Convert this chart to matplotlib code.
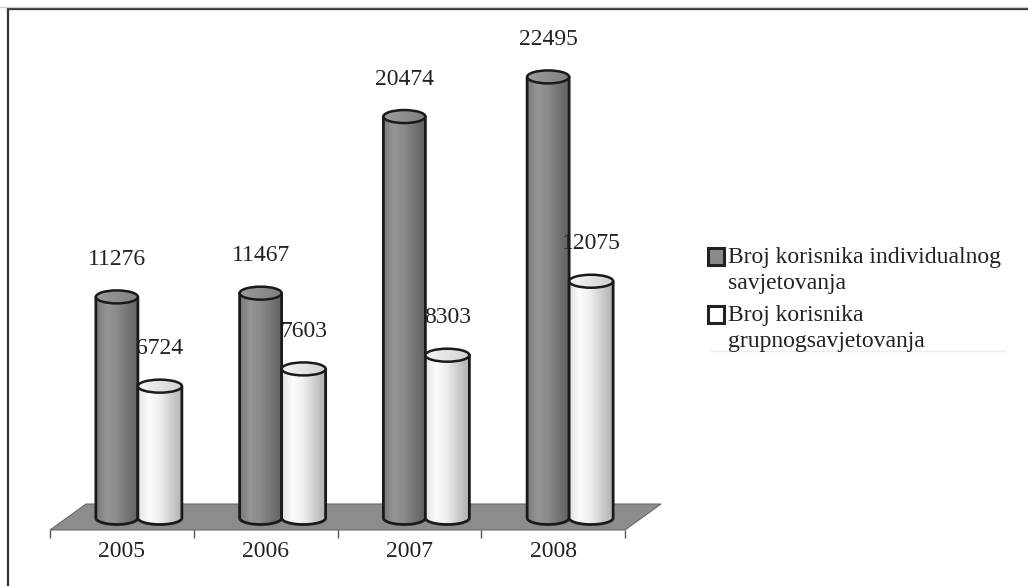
import numpy as np
import matplotlib
matplotlib.use("Agg")
from matplotlib import pyplot as plt
from matplotlib.patches import Polygon, Ellipse, Rectangle
from matplotlib.colors import LinearSegmentedColormap
from matplotlib.lines import Line2D

years = ['2005', '2006', '2007', '2008']
individual = [11276, 11467, 20474, 22495]
group = [6724, 7603, 8303, 12075]
labels = ['Broj korisnika individualnog\nsavjetovanja',
          'Broj korisnika\ngrupnogsavjetovanja']

plt.rcParams['font.family'] = ['Liberation Serif', 'DejaVu Serif']

W, H = 1028, 586
fig = plt.figure(figsize=(W / 100, H / 100), dpi=100)
# axes box in pixels: x 50..625, y 10..530
ax = fig.add_axes([50 / W, (H - 530) / H, 575 / W, 520 / H])
ymin, ymax = -612, 25908
xmin, xmax = -0.5, 3.5
px_x = (xmax - xmin) / 575.0   # data units per pixel
px_y = (ymax - ymin) / 520.0

dark_cmap = LinearSegmentedColormap.from_list('d', ['#7a7a7a', '#959595', '#8a8a8a', '#747474', '#626262'])
light_cmap = LinearSegmentedColormap.from_list('l', ['#e2e2e2', '#fdfdfd', '#ededed', '#cdcdcd', '#b0b0b0'])
dark_top = LinearSegmentedColormap.from_list('dt', ['#9c9c9c', '#808080'])
light_top = LinearSegmentedColormap.from_list('lt', ['#f7f7f7', '#cfcfcf'])
grad = np.linspace(0, 1, 256)[np.newaxis, :]

ry = 6.5 * px_y


def cylinder(xc, w, top, body_cmap, top_cmap, z):
    x0, x1 = xc - w / 2, xc + w / 2
    t = np.linspace(np.pi, 2 * np.pi, 60)
    bx = xc + w / 2 * np.cos(t)
    by = ry * np.sin(t)
    verts = [(x0, top)] + list(zip(bx, by)) + [(x1, top)]
    body = Polygon(verts, closed=True, facecolor='none', edgecolor='none', zorder=z)
    ax.add_patch(body)
    im = ax.imshow(grad, extent=(x0, x1, -ry, top), aspect='auto', cmap=body_cmap,
                   zorder=z, interpolation='bilinear')
    im.set_clip_path(body)
    ax.plot(np.r_[x0, bx, x1], np.r_[top, by, top], color='#1a1a1a', lw=2.0,
            zorder=z + 0.1, solid_capstyle='round')
    ell = Ellipse((xc, top), w, 2 * ry, facecolor='none', edgecolor='none', zorder=z + 0.2)
    ax.add_patch(ell)
    im2 = ax.imshow(grad, extent=(x0, x1, top - ry, top + ry), aspect='auto', cmap=top_cmap,
                    zorder=z + 0.2, interpolation='bilinear')
    im2.set_clip_path(ell)
    ax.add_patch(Ellipse((xc, top), w, 2 * ry, facecolor='none', edgecolor='#1a1a1a',
                         lw=1.8, zorder=z + 0.3))


# floor
depth_x, depth_y = 36 * px_x, 26 * px_y
floor = Polygon([(xmin, ymin), (xmax, ymin), (xmax + depth_x, ymin + depth_y),
                 (xmin + depth_x, ymin + depth_y)], closed=True,
                facecolor='#8c8c8c', edgecolor='#6a6a6a', lw=0.8, zorder=1, clip_on=False)
ax.add_patch(floor)

x = np.arange(len(years))
wd, wl = 42 * px_x, 44 * px_x
for i in range(len(years)):
    xd = x[i] - 5 * px_x
    xl = x[i] + 38 * px_x
    cylinder(xd, wd, individual[i], dark_cmap, dark_top, 3)
    cylinder(xl, wl, group[i], light_cmap, light_top, 4)
    ax.annotate(str(individual[i]), (xd, individual[i]), xytext=(0, 27),
                textcoords='offset points', ha='center', va='center', fontsize=17,
                color='#222222')
    ax.annotate(str(group[i]), (xl, group[i]), xytext=(0, 27),
                textcoords='offset points', ha='center', va='center', fontsize=17,
                color='#222222')

ax.set_xlim(xmin, xmax)
ax.set_ylim(ymin, ymax)
for s in ax.spines.values():
    s.set_visible(False)
ax.set_yticks([])
ax.set_xticks(np.arange(len(years) + 1) - 0.5)
ax.set_xticklabels([])
ax.tick_params(axis='x', which='major', direction='out', length=6, width=1, color='#555555')
ax.set_xticks(x, minor=True)
ax.set_xticklabels(years, minor=True, fontsize=17, color='#222222')
ax.tick_params(axis='x', which='minor', length=0, pad=8)
ax.patch.set_visible(False)

# legend drawn by hand so the key squares line up with the first text line
leg_faces = ['#8a8a8a', 'white']
leg_top = [248, 306]
for k in range(len(labels)):
    fig.add_artist(Rectangle((708 / W, 1 - (leg_top[k] + 17) / H), 16 / W, 17 / H,
                             transform=fig.transFigure, facecolor=leg_faces[k],
                             edgecolor='#222222', lw=2.2))
    for j, line in enumerate(labels[k].split('\n')):
        fig.text(728 / W, 1 - (leg_top[k] + 15 + 26 * j) / H, line, fontsize=17,
                 color='#222222', ha='left', va='baseline')
fig.add_artist(Line2D([710 / W, 1005 / W], [1 - 351 / H, 1 - 351 / H], color='#eeeeee', lw=1))

# frame lines
fig.add_artist(Line2D([8 / W, 1.0], [1 - 9 / H, 1 - 9 / H], color='#333333', lw=1.6))
fig.add_artist(Line2D([8 / W, 8 / W], [0, 1 - 9 / H], color='#333333', lw=1.6))
fig.add_artist(Line2D([0, 1.0], [1 - 6.5 / H, 1 - 6.5 / H], color='#d0d0d0', lw=1))

fig.savefig('out.png', dpi=100)
